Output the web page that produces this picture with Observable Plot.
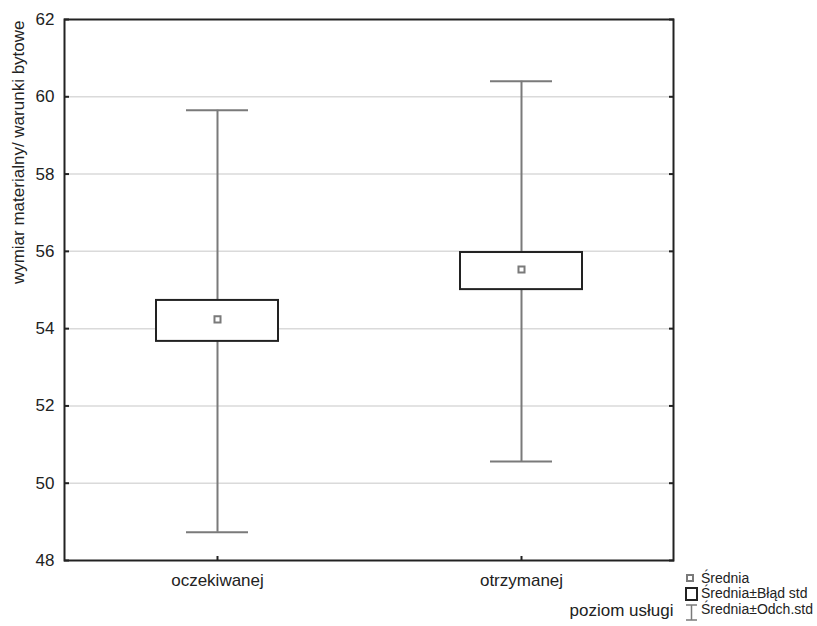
<!DOCTYPE html>
<html>
<head>
<meta charset="utf-8">
<script src="https://cdn.jsdelivr.net/npm/d3@7"></script>
<script src="https://cdn.jsdelivr.net/npm/@observablehq/plot@0.6"></script>
<style>
  html, body { margin: 0; padding: 0; background: #fff; }
  #wrap { position: relative; width: 817px; height: 626px; font-family: "Liberation Sans", Arial, sans-serif; }
  #legend { position: absolute; left: 683px; top: 569px; }
</style>
</head>
<body>
<div id="wrap"></div>
<script>
// ---- data ----
const categories = ["oczekiwanej", "otrzymanej"];
const means = [54.24, 55.53];
const seLow = [53.67, 55.01];
const seHigh = [54.73, 55.97];
const sdLow = [48.73, 50.56];
const sdHigh = [59.65, 60.40];
const yTicks = [48, 50, 52, 54, 56, 58, 60, 62];
const yGrid = [50, 52, 54, 56, 58, 60];
const yLabel = "wymiar materialny/ warunki bytowe";
const xLabel = "poziom usługi";
const legendLabels = ["Średnia", "Średnia±Błąd std", "Średnia±Odch.std"];

const rows = categories.map((c, i) => ({
  cat: c, mean: means[i], seLow: seLow[i], seHigh: seHigh[i], sdLow: sdLow[i], sdHigh: sdHigh[i]
}));

const font = "'Liberation Sans', Arial, sans-serif";
const dark = "#222";
const gray = "#7a7a7a";

const chart = Plot.plot({
  width: 817,
  height: 626,
  marginLeft: 64,
  marginRight: 144,
  marginTop: 19,
  marginBottom: 66,
  style: { fontFamily: font, fontSize: "17px", color: dark, background: "white", overflow: "visible" },
  x: { type: "band", domain: categories, padding: 0, label: null },
  y: { domain: [48, 62], label: null },
  marks: [
    Plot.gridY(yGrid, { stroke: "#dadada", strokeOpacity: 1, strokeWidth: 1.5 }),
    // whiskers (mean ± SD)
    Plot.ruleX(rows, { x: "cat", y1: "sdLow", y2: "sdHigh", stroke: gray, strokeWidth: 2 }),
    Plot.tickY(rows, { x: "cat", y: "sdLow", stroke: gray, strokeWidth: 2, insetLeft: 121, insetRight: 121 }),
    Plot.tickY(rows, { x: "cat", y: "sdHigh", stroke: gray, strokeWidth: 2, insetLeft: 121, insetRight: 121 }),
    // box (mean ± SE)
    Plot.rectY(rows, { x: "cat", y1: "seLow", y2: "seHigh", fill: "white", stroke: dark, strokeWidth: 2, insetLeft: 91, insetRight: 91 }),
    // mean
    Plot.dot(rows, { x: "cat", y: "mean", symbol: "square", r: 3.4, fill: "white", stroke: gray, strokeWidth: 2 }),
    // frame
    Plot.frame({ stroke: dark, strokeWidth: 2 }),
    // y axis labels
    Plot.axisY({ anchor: "left", ticks: yTicks, tickSize: 0, tickPadding: 10, fontSize: 17, label: null }),
    // inward ticks left/right
    Plot.axisY({ anchor: "left", ticks: yTicks, tickSize: 5, dx: 5, text: null, label: null, stroke: dark, strokeWidth: 2 }),
    Plot.axisY({ anchor: "right", ticks: yTicks, tickSize: 5, dx: -5, text: null, label: null, stroke: dark, strokeWidth: 2 }),
    // x axis
    Plot.axisX({ anchor: "bottom", tickSize: 0, tickPadding: 13, fontSize: 17, label: null }),
    Plot.axisX({ anchor: "bottom", tickSize: 4, dy: -4, text: null, label: null, stroke: dark, strokeWidth: 2 }),
    // axis titles
    Plot.text([xLabel], { text: d => d, frameAnchor: "bottom-right", textAnchor: "end", lineAnchor: "middle", dy: 50, fontSize: 17, fill: dark }),
    Plot.text([yLabel], { text: d => d, frameAnchor: "top-left", rotate: -90, textAnchor: "end", lineAnchor: "middle", dx: -46, dy: 1, fontSize: 17, fill: dark })
  ]
});

const wrap = document.getElementById("wrap");
wrap.appendChild(chart);

// ---- legend ----
const lg = d3.create("svg").attr("id", "legend").attr("width", 134).attr("height", 56)
  .style("font-family", font).style("font-size", "14px");
// row 1: mean square
lg.append("rect").attr("x", 4).attr("y", 6).attr("width", 6).attr("height", 6)
  .attr("fill", "white").attr("stroke", gray).attr("stroke-width", 2);
// row 2: box
lg.append("rect").attr("x", 3).attr("y", 19).attr("width", 11).attr("height", 12)
  .attr("fill", "white").attr("stroke", dark).attr("stroke-width", 2);
// row 3: whisker
lg.append("line").attr("x1", 3).attr("x2", 14).attr("y1", 36).attr("y2", 36).attr("stroke", gray).attr("stroke-width", 1.5);
lg.append("line").attr("x1", 8.5).attr("x2", 8.5).attr("y1", 36).attr("y2", 51).attr("stroke", gray).attr("stroke-width", 1.5);
lg.append("line").attr("x1", 3).attr("x2", 14).attr("y1", 51).attr("y2", 51).attr("stroke", gray).attr("stroke-width", 1.5);
legendLabels.forEach((t, i) => {
  lg.append("text").attr("x", 18).attr("y", 9 + i * 15.5).attr("dy", "0.35em").attr("fill", dark).text(t);
});
wrap.appendChild(lg.node());
</script>
</body>
</html>
